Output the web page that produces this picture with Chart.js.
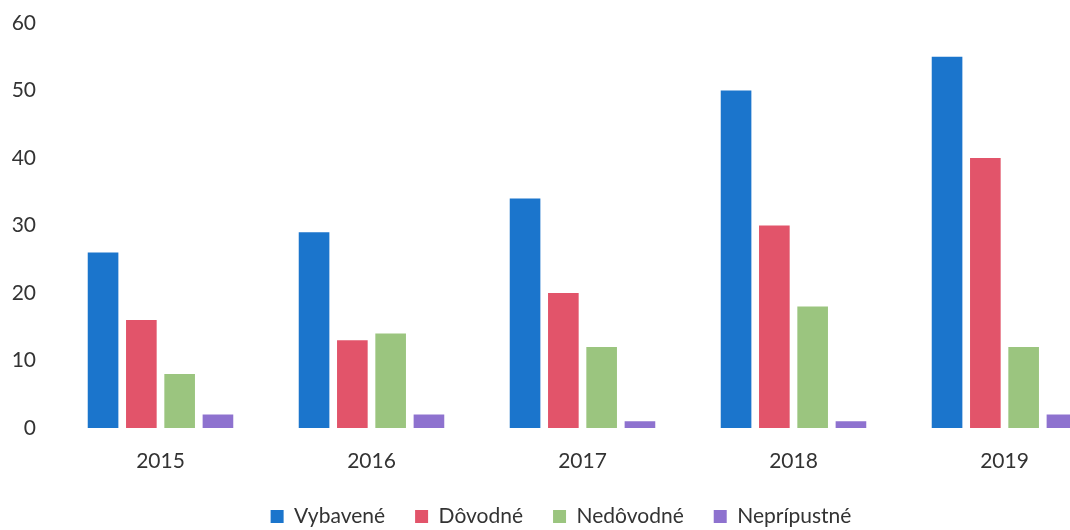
<!DOCTYPE html>
<html>
<head>
<meta charset="utf-8">
<script src="https://cdn.jsdelivr.net/npm/chart.js@4/dist/chart.umd.min.js"></script>
<style>
  html, body { margin: 0; padding: 0; background: #fff; overflow: hidden; }
  #wrap { width: 1151px; height: 537px; }
</style>
</head>
<body>
<div id="wrap"><canvas id="c"></canvas></div>
<script>
const years = ['2015', '2016', '2017', '2018', '2019'];
const vybavene = [26, 29, 34, 50, 55];
const dovodne = [16, 13, 20, 30, 40];
const nedovodne = [8, 14, 12, 18, 12];
const nepripustne = [2, 2, 1, 1, 2];

const textColor = '#333333';
Chart.defaults.font.family = 'Lato';
Chart.defaults.font.size = 21;
Chart.defaults.color = textColor;

function series(label, data, color) {
    return {
        label: label,
        data: data,
        backgroundColor: color,
        borderWidth: 0,
        categoryPercentage: 0.726,
        barPercentage: 0.8
    };
}

new Chart(document.getElementById('c'), {
    type: 'bar',
    data: {
        labels: years,
        datasets: [
            series('Vybavené', vybavene, '#1b75cc'),
            series('Dôvodné', dovodne, '#e2546a'),
            series('Nedôvodné', nedovodne, '#9bc57f'),
            series('Neprípustné', nepripustne, '#8e72cf')
        ]
    },
    options: {
        responsive: true,
        maintainAspectRatio: false,
        animation: false,
        layout: { padding: { left: 12, right: 41, top: 23, bottom: 0 } },
        plugins: {
            legend: {
                position: 'bottom',
                labels: {
                    boxWidth: 13,
                    boxHeight: 13,
                    padding: 30,
                    color: textColor
                }
            },
            tooltip: { enabled: false }
        },
        scales: {
            x: {
                grid: { display: false, drawTicks: false },
                border: { display: false },
                ticks: { padding: 21, color: textColor },
                afterFit: (scale) => { scale.height = 48; }
            },
            y: {
                min: 0,
                max: 60,
                grid: { display: false, drawTicks: false },
                border: { display: false },
                ticks: { stepSize: 10, padding: 19, color: textColor },
                afterFit: (scale) => {
                    scale.width = 43;
                    scale.paddingTop = 0;
                    scale.paddingBottom = 0;
                }
            }
        }
    }
});
</script>
</body>
</html>
